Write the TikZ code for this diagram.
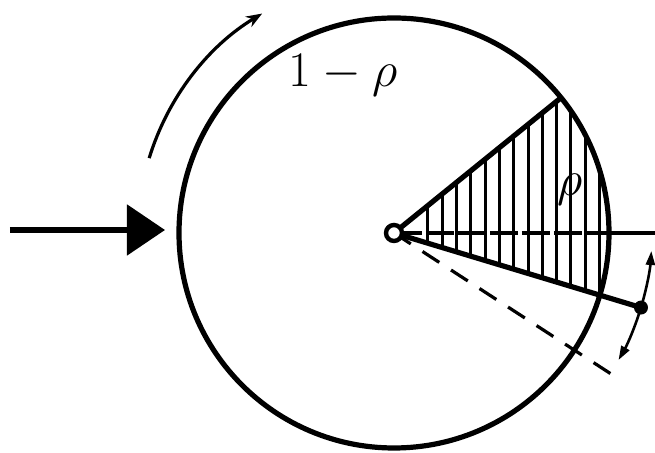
\documentclass[tikz,border=0pt]{standalone}
\usepackage{amsmath,amssymb}
\usepackage{tikz}
\usetikzlibrary{positioning,arrows.meta}

\begin{document}
\begin{tikzpicture}[x=0.5pt, y=0.5pt, >=Stealth,
    rim/.style={line width=2.6pt},
    edge/.style={line width=2.6pt},
    hatch/.style={line width=1.5pt},
    thin/.style={line width=1.6pt},
    hub/.style={circle, draw, line width=2.2pt, fill=white, inner sep=0pt, minimum size=8pt},
    lbl/.style={font=\fontsize{25}{30}\selectfont}]

\useasboundingbox (-394,-220) rectangle (261,233);

\coordinate (O) at (0,0);
\coordinate (upper) at (39:215);
\coordinate (lower) at (-16.3:215);
\coordinate (tip) at (-16.8:258);
\coordinate (dash) at (-33:258);
\coordinate (ray) at (261,0);
\coordinate (ray in) at (214,0);

% hatched sector
\begin{scope}
  \clip (O) -- (upper) arc[start angle=39, end angle=-16.3, radius=215] -- cycle;
  \foreach \x in {34,48.3,...,216}
    \draw[hatch] (\x,-80) -- (\x,160);
\end{scope}

% wheel
\draw[rim] (O) circle[radius=215];
\draw[edge] (O) -- (upper);
\draw[edge] (O) -- (tip);
\draw[thin, dash pattern=on 14pt off 2pt] (O) -- (ray in);
\draw[thin] (ray in) -- (ray);
\draw[thin, dash pattern=on 10pt off 7pt] (O) -- (dash);
\node[hub] (hub) at (O) {};
\fill (tip) circle[radius=7];

% displacement of the pointer
\draw[line width=1.3pt, -{Triangle[length=7pt, width=4.5pt]}]
  (tip) arc[start angle=-16.8, end angle=-4, radius=258];
\draw[line width=1.3pt, -{Triangle[length=7pt, width=4.5pt]}]
  (tip) arc[start angle=-16.8, end angle=-29.5, radius=258];

% input and sense of rotation
\coordinate (in) at (-384,3);
\coordinate (in end) at (-229,3);
\draw[line width=2.6pt, -{Triangle[length=19pt, width=25pt]}] (in) -- (in end);
\draw[thin, -{Stealth[length=8pt, width=6pt]}]
  (163:256) arc[start angle=163, end angle=121, radius=256];

% labels
\node[lbl] (q) at (-51,158) {$1-\rho$};
\node[lbl] (p) at (176,43) {$\rho$};

\end{tikzpicture}
\end{document}
